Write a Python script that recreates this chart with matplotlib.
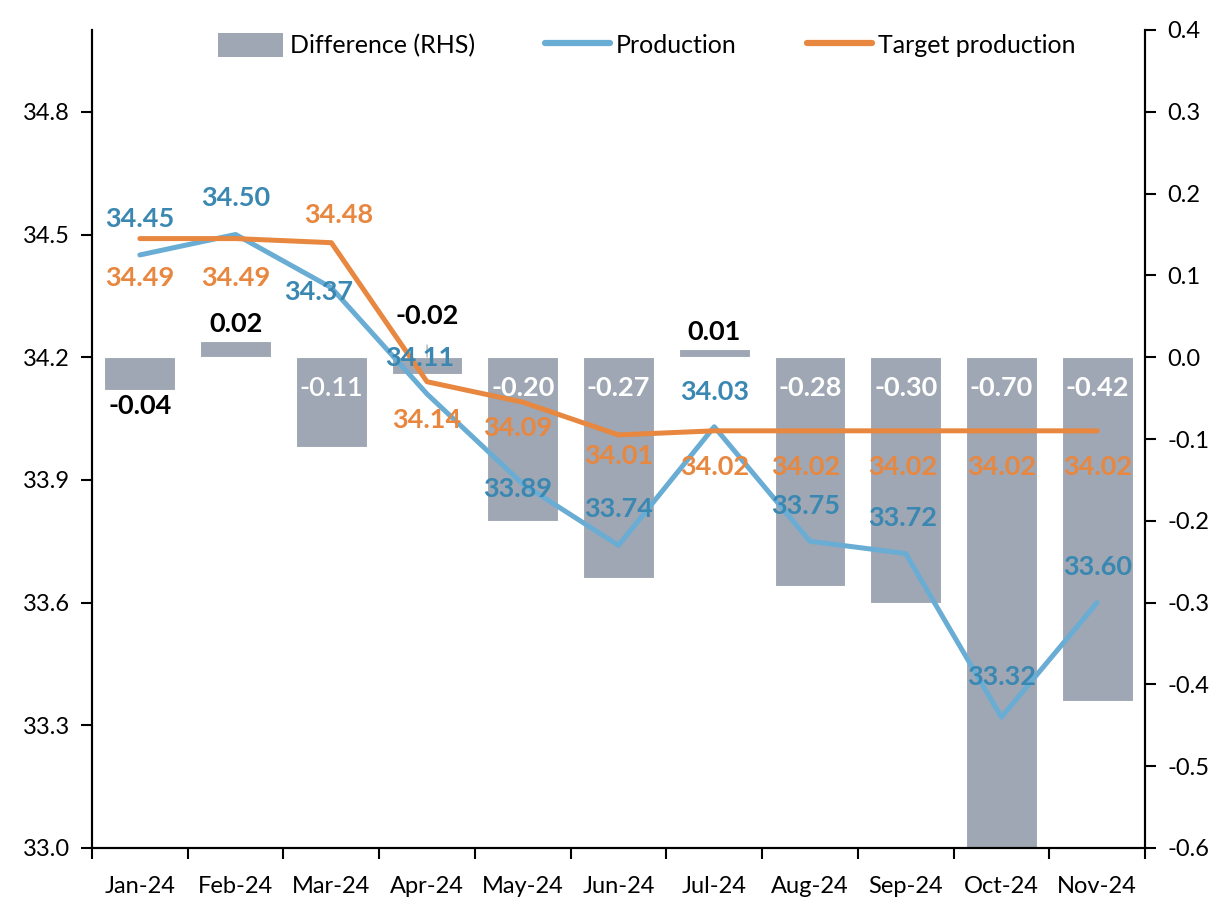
import matplotlib
matplotlib.use("Agg")
import matplotlib.pyplot as plt
from matplotlib.patches import Patch
from matplotlib.lines import Line2D

plt.rcParams['font.family'] = ['Lato', 'DejaVu Sans']

months = ["Jan-24", "Feb-24", "Mar-24", "Apr-24", "May-24", "Jun-24",
          "Jul-24", "Aug-24", "Sep-24", "Oct-24", "Nov-24"]
production = [34.45, 34.50, 34.37, 34.11, 33.89, 33.74, 34.03, 33.75, 33.72, 33.32, 33.60]
target = [34.49, 34.49, 34.48, 34.14, 34.09, 34.01, 34.02, 34.02, 34.02, 34.02, 34.02]
difference = [-0.04, 0.02, -0.11, -0.02, -0.20, -0.27, 0.01, -0.28, -0.30, -0.70, -0.42]

left_ticks = [33.0, 33.3, 33.6, 33.9, 34.2, 34.5, 34.8]
right_ticks = [-0.6, -0.5, -0.4, -0.3, -0.2, -0.1, 0.0, 0.1, 0.2, 0.3, 0.4]

BAR = "#9EA7B3"
BLUE_LINE = "#6AADD4"
BLUE_TXT = "#3A88B2"
ORANGE = "#E8873F"

# label offsets (pixels) — layout only
prod_off = [(0, 36), (0, 36), (-13, -4), (-7, 36), (-5, -5), (0, 36), (0, 35), (-4, 35), (-3, 36), (0, 40), (1, 36)]
targ_off = [(0, -39), (0, -39), (7, 28), (0, -38), (-5, -26), (0, -21), (0, -36), (-4, -36), (-3, -36), (0, -36), (1, -36)]

fig = plt.figure(figsize=(12.19, 9.0), dpi=100)
ax = fig.add_axes([92/1219, 1 - 848/900, (1145-92)/1219, (848-30)/900])
ax2 = ax.twinx()
ax.set_zorder(ax2.get_zorder() + 1)
ax.patch.set_visible(False)

x = list(range(len(months)))

LBL = 19.5
TICK = 17

# Bars on right axis
ax2.bar(x, difference, width=0.74, color=BAR, edgecolor="white", linewidth=0.8, zorder=2)
ax2.set_ylim(-0.6, 0.4)
ax2.set_yticks(right_ticks)
ax2.set_yticklabels([f"{t:.1f}" for t in right_ticks])

px = 0.72  # points per pixel
for i, d in enumerate(difference):
    txt = f"{d:.2f}"
    if d > 0:
        ax2.annotate(txt, (i, d), xytext=(0, 5*px), textcoords="offset points",
                     ha="center", va="bottom", fontsize=LBL, fontweight="bold", color="black")
    elif i == 0:
        ax2.annotate(txt, (i, d), xytext=(0, -4*px), textcoords="offset points",
                     ha="center", va="top", fontsize=LBL, fontweight="bold", color="black")
    elif i == 3:
        ax2.annotate(txt, (i, 0), xytext=(0, 41*px), textcoords="offset points",
                     ha="center", va="center", fontsize=LBL, fontweight="bold", color="black",
                     arrowprops=dict(arrowstyle="-", color="#A0A0A0", lw=0.8,
                                     shrinkA=10, shrinkB=0))
    else:
        ax2.annotate(txt, (i, 0), xytext=(0, -31*px), textcoords="offset points",
                     ha="center", va="center", fontsize=LBL,
                     fontweight="semibold" if i == 2 else "bold", color="white")

# Lines on left axis
ax.plot(x, production, color=BLUE_LINE, lw=3.6, solid_capstyle="round", zorder=3)
ax.plot(x, target, color=ORANGE, lw=3.6, solid_capstyle="round", zorder=4)

for i, v in enumerate(production):
    dx, dy = prod_off[i]
    ax.annotate(f"{v:.2f}", (i, v), xytext=(dx*px, dy*px), textcoords="offset points",
                ha="center", va="center", fontsize=LBL, fontweight="bold", color=BLUE_TXT, zorder=5)
for i, v in enumerate(target):
    dx, dy = targ_off[i]
    ax.annotate(f"{v:.2f}", (i, v), xytext=(dx*px, dy*px), textcoords="offset points",
                ha="center", va="center", fontsize=LBL, fontweight="bold", color=ORANGE, zorder=5)

ax.set_ylim(33.0, 35.0)
ax.set_yticks(left_ticks)
ax.set_yticklabels([f"{t:.1f}" for t in left_ticks])
ax.set_xlim(-0.5, len(months) - 0.5)
ax.set_xticks([i - 0.5 for i in range(len(months) + 1)])
ax.set_xticklabels([])
ax.set_xticks(x, minor=True)
ax.set_xticklabels(months, minor=True)
ax.tick_params(axis="x", which="major", length=8, width=1.5, direction="out")
ax.tick_params(axis="x", which="minor", length=0, pad=20, labelsize=TICK)
ax.tick_params(axis="y", length=8, width=1.5, direction="out", labelsize=TICK, pad=8)
ax2.tick_params(axis="y", length=8, width=1.5, direction="out", labelsize=TICK, pad=8)

for a in (ax, ax2):
    a.spines["top"].set_visible(False)
    for s in ("left", "right", "bottom"):
        a.spines[s].set_linewidth(1.5)
        a.spines[s].set_color("black")

handles = [Patch(facecolor=BAR, edgecolor="none"),
           Line2D([0], [0], color=BLUE_LINE, lw=4.5, solid_capstyle="round"),
           Line2D([0], [0], color=ORANGE, lw=4.5, solid_capstyle="round")]
ax.legend(handles, ["Difference (RHS)", "Production", "Target production"],
          loc="upper center", bbox_to_anchor=(0.527, 1.024), ncol=3, frameon=False,
          fontsize=18, handlelength=2.6, handletextpad=0.25, columnspacing=2.8,
          handleheight=1.1)

fig.savefig("out.png", dpi=100)
